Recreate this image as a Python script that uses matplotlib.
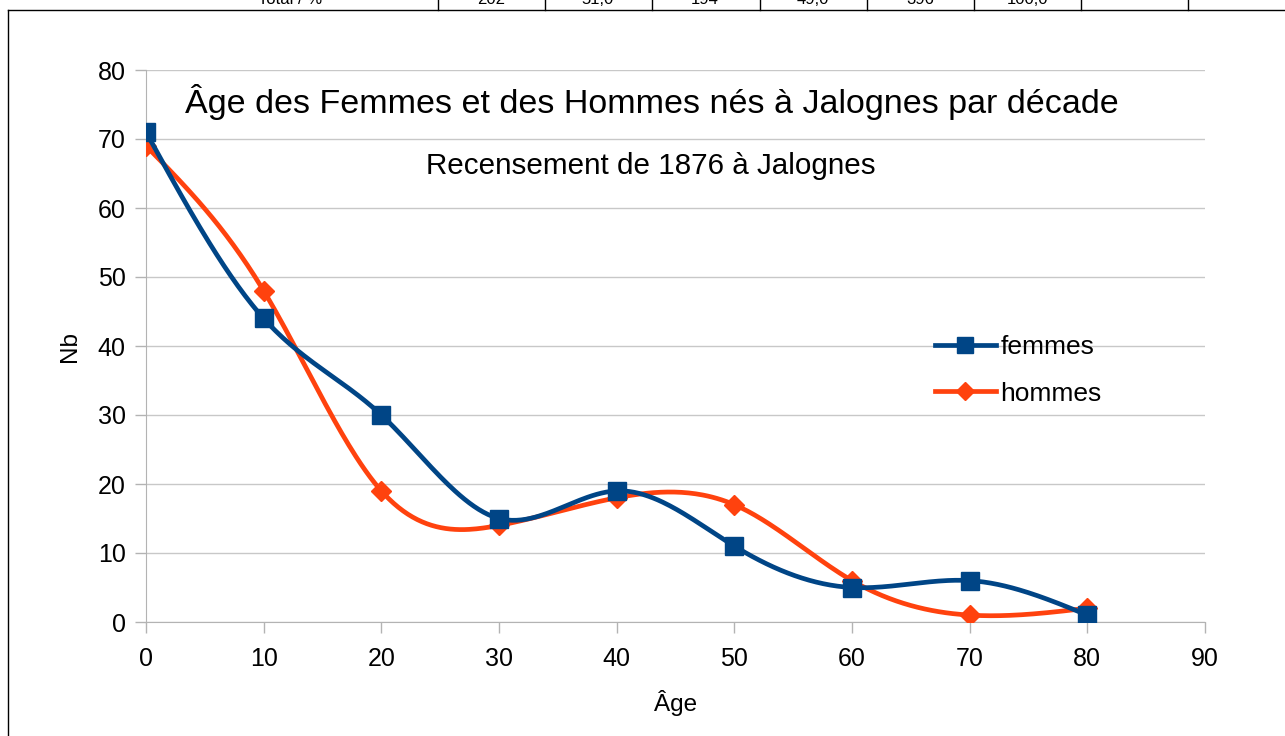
import numpy as np
import matplotlib.pyplot as plt
from matplotlib.lines import Line2D

plt.rcParams["font.family"] = ["Liberation Sans", "DejaVu Sans"]

ages = [0, 10, 20, 30, 40, 50, 60, 70, 80]
femmes = [71, 44, 30, 15, 19, 11, 5, 6, 1]
hommes = [69, 48, 19, 14, 18, 17, 6, 1, 2]

# bottom row of the table cut off above the chart
table_row = ["Total / %", "202", "51,0", "194", "49,0", "396", "100,0"]
table_x = [290, 491, 598, 705, 813, 920, 1027]


def natural_spline(x, y, n=400):
    x = np.asarray(x, float)
    y = np.asarray(y, float)
    k = len(x)
    h = np.diff(x)
    A = np.zeros((k, k))
    b = np.zeros(k)
    A[0, 0] = A[-1, -1] = 1
    for i in range(1, k - 1):
        A[i, i - 1] = h[i - 1]
        A[i, i] = 2 * (h[i - 1] + h[i])
        A[i, i + 1] = h[i]
        b[i] = 3 * ((y[i + 1] - y[i]) / h[i] - (y[i] - y[i - 1]) / h[i - 1])
    c = np.linalg.solve(A, b)
    xs = np.linspace(x[0], x[-1], n)
    idx = np.clip(np.searchsorted(x, xs, side="right") - 1, 0, k - 2)
    dx = xs - x[idx]
    bb = (y[idx + 1] - y[idx]) / h[idx] - h[idx] * (2 * c[idx] + c[idx + 1]) / 3
    d = (c[idx + 1] - c[idx]) / (3 * h[idx])
    ys = y[idx] + bb * dx + c[idx] * dx**2 + d * dx**3
    return xs, ys


blue = "#004586"
orange = "#ff420e"

fig = plt.figure(figsize=(12.85, 7.36), dpi=100)
ax = fig.add_axes([146 / 1285, 1 - 622 / 736, (1205 - 146) / 1285, (622 - 70) / 736])

xs, ys = natural_spline(ages, hommes)
ax.plot(xs, ys, color=orange, lw=3.4, zorder=3)
ax.plot(ages, hommes, ls="none", marker="D", ms=10, color=orange, zorder=4)

xs, ys = natural_spline(ages, femmes)
ax.plot(xs, ys, color=blue, lw=3.4, zorder=5)
ax.plot(ages, femmes, ls="none", marker="s", ms=13, color=blue, zorder=6)

ax.set_xlim(0, 90)
ax.set_ylim(0, 80)
ax.set_xticks(range(0, 91, 10))
ax.set_yticks(range(0, 81, 10))
ax.grid(axis="y", color="#c8c8c8", lw=1)
ax.set_axisbelow(True)
for s in ["top", "right"]:
    ax.spines[s].set_visible(False)
for s in ["left", "bottom"]:
    ax.spines[s].set_color("#b3b3b3")
ax.tick_params(colors="#b3b3b3", labelcolor="black", labelsize=18, length=8, width=1)
ax.tick_params(axis="x", pad=10)
ax.tick_params(axis="y", pad=6.5)
ax.set_xlabel("Âge", fontsize=17.5, labelpad=14)
ax.set_ylabel("Nb", fontsize=17.5, labelpad=12.5)

fig.text(652 / 1285, 1 - 102 / 736, "Âge des Femmes et des Hommes nés à Jalognes par décade",
         ha="center", va="center", fontsize=24.5)
fig.text(651 / 1285, 1 - 166 / 736, "Recensement de 1876 à Jalognes",
         ha="center", va="center", fontsize=21.3)

handles = [
    Line2D([], [], color=blue, lw=3.4, marker="s", ms=12),
    Line2D([], [], color=orange, lw=3.4, marker="D", ms=9),
]
ax.legend(handles, ["femmes", "hommes"], loc="center left",
          bbox_to_anchor=(0.745, 0.456), frameon=False, fontsize=19,
          handlelength=2.3, handletextpad=0.18, labelspacing=0.85,
          borderaxespad=0, borderpad=0)

# fragment of table above the chart
fig.add_artist(Line2D([8 / 1285, 1], [1 - 10 / 736] * 2, color="black", lw=1))
fig.add_artist(Line2D([8 / 1285] * 2, [0, 1 - 10 / 736], color="black", lw=1))
for xv in [438, 545, 652, 760, 867, 974, 1081, 1188]:
    fig.add_artist(Line2D([xv / 1285] * 2, [1 - 10 / 736, 1], color="black", lw=1))
for t, xv in zip(table_row, table_x):
    fig.text(xv / 1285, 1 - 4 / 736, t, ha="center", va="baseline", fontsize=12)

fig.savefig("out.png", dpi=100)
